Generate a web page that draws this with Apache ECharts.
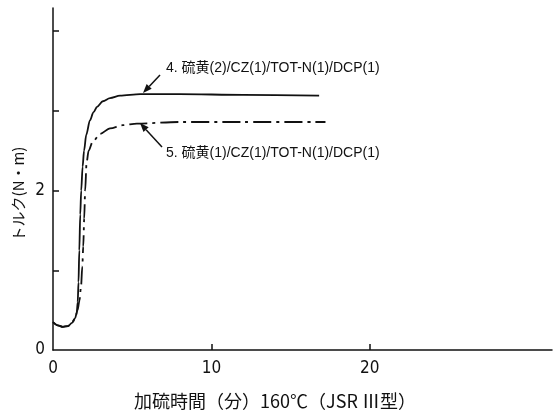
<!DOCTYPE html>
<html><head><meta charset="utf-8">
<script src="https://cdn.jsdelivr.net/npm/echarts@6/dist/echarts.min.js"></script>
<style>html,body{margin:0;padding:0;background:#fff}#c{width:556px;height:415px}</style>
</head><body><div id="c"></div>
<script>
// Curve 4: 硫黄(2)/CZ(1)/TOT-N(1)/DCP(1)
const time4 = [0, 0.3, 0.63, 0.95, 1.2, 1.4, 1.5, 1.56, 1.61, 1.66, 1.72, 1.78, 1.87, 1.96, 2.1, 2.33, 2.55, 2.78, 3.15, 3.6, 4.23, 5.5, 8, 12, 16.8];
const torque4 = [0.35, 0.31, 0.29, 0.30, 0.34, 0.40, 0.47, 0.6, 0.85, 1.25, 1.7, 2.0, 2.3, 2.5, 2.7, 2.88, 2.98, 3.05, 3.12, 3.16, 3.19, 3.21, 3.21, 3.2, 3.19];
// Curve 5: 硫黄(1)/CZ(1)/TOT-N(1)/DCP(1)
const time5 = [0, 0.3, 0.63, 0.95, 1.2, 1.4, 1.55, 1.67, 1.77, 1.85, 1.91, 1.97, 2.03, 2.12, 2.25, 2.5, 2.97, 3.6, 4.4, 5.3, 8, 12, 17.2];
const torque5 = [0.35, 0.31, 0.29, 0.30, 0.34, 0.40, 0.5, 0.62, 0.8, 1.05, 1.3, 1.65, 2.0, 2.35, 2.5, 2.61, 2.71, 2.78, 2.82, 2.84, 2.86, 2.86, 2.86];
const label4 = '4. 硫黄(2)/CZ(1)/TOT-N(1)/DCP(1)';
const label5 = '5. 硫黄(1)/CZ(1)/TOT-N(1)/DCP(1)';
const xName = '加硫時間（分）160℃（JSR Ⅲ型）';
const yName = 'トルク(N・m)';
const xTicks = [10, 20];
const yTicks = [1, 2, 3, 4];
const yLabels = [0, 2];

const chart = echarts.init(document.getElementById('c'));
const ink = '#111';
const tickFont = {fontFamily: "'Liberation Sans Narrow','DejaVu Sans Condensed',sans-serif", fontSize: 17, color: ink};
const annFamily = "'Liberation Sans','Noto Sans CJK JP',sans-serif";

function arrow(x1, y1, x2, y2) {
  const dx = x2 - x1, dy = y2 - y1, L = Math.hypot(dx, dy);
  const ux = dx / L, uy = dy / L, px = -uy, py = ux;
  const hl = 9, hw = 3.5;
  const bx = x2 - hl * ux, by = y2 - hl * uy;
  return [
    {type: 'line', shape: {x1: x1, y1: y1, x2: bx, y2: by}, style: {stroke: ink, lineWidth: 1.5}},
    {type: 'polygon', shape: {points: [[x2, y2], [bx + hw * px, by + hw * py], [bx - hw * px, by - hw * py]]}, style: {fill: ink}}
  ];
}

chart.setOption({
  animation: false,
  grid: {left: 53, right: 4, top: 8, bottom: 65},
  xAxis: {
    type: 'value', min: 0, max: 31.5, interval: 10,
    axisLine: {show: true, lineStyle: {color: ink, width: 1.5}},
    axisTick: {show: true, inside: true, length: 6, customValues: xTicks, lineStyle: {color: ink, width: 1.5}},
    axisLabel: Object.assign({margin: 10, customValues: [0].concat(xTicks)}, tickFont),
    splitLine: {show: false}
  },
  yAxis: {
    type: 'value', min: 0, max: 4.29, interval: 1,
    axisLine: {show: true, lineStyle: {color: ink, width: 1.5}},
    axisTick: {show: true, inside: true, length: 6, customValues: yTicks, lineStyle: {color: ink, width: 1.5}},
    axisLabel: Object.assign({margin: 8, customValues: yLabels}, tickFont),
    splitLine: {show: false}
  },
  series: [
    {type: 'line', data: time4.map((t, i) => [t, torque4[i]]), smooth: 0.3, smoothMonotone: 'x', symbol: 'none',
     lineStyle: {color: ink, width: 1.8}},
    {type: 'line', data: time5.map((t, i) => [t, torque5[i]]), smooth: 0.3, smoothMonotone: 'x', symbol: 'none',
     lineStyle: {color: ink, width: 1.8, type: [18, 5, 3, 5]}}
  ],
  graphic: [
    {type: 'text', x: 166, y: 68, style: {text: label4, font: '14px ' + annFamily, fill: ink, verticalAlign: 'middle'}},
    {type: 'text', x: 166, y: 153, style: {text: label5, font: '14px ' + annFamily, fill: ink, verticalAlign: 'middle'}},
    {type: 'text', x: 275, y: 401, style: {text: xName, fontFamily: 'Noto Sans CJK JP', fontSize: 18, fill: ink, align: 'center', verticalAlign: 'middle'}},
    {type: 'text', x: 18, y: 194, rotation: Math.PI / 2, style: {text: yName, fontFamily: 'Noto Sans CJK JP', fontSize: 15, fill: ink, align: 'center', verticalAlign: 'middle'}}
  ].concat(arrow(160, 75, 143, 93), arrow(162, 147, 140, 123))
});
</script></body></html>
